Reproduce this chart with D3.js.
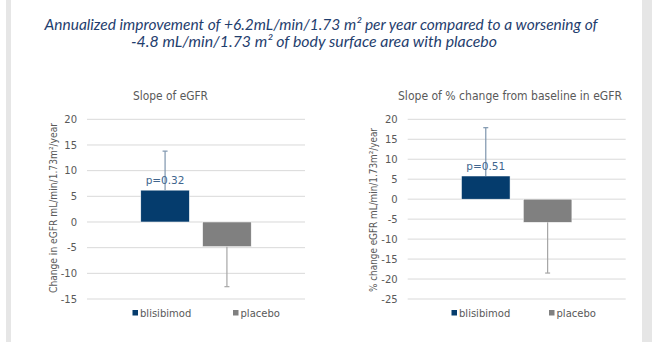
<!DOCTYPE html>
<html>
<head>
<meta charset="utf-8">
<script src="https://cdn.jsdelivr.net/npm/d3@7"></script>
<style>
  body { margin: 0; background: #fff; }
  svg { display: block; }
</style>
</head>
<body>
<svg id="chart"></svg>
<script>
// data
var series = ["blisibimod", "placebo"];
var seriesColors = ["#053c6d", "#808080"];
var errColors = ["#7d95ad", "#a6a6a6"];

var slopeValues = [6.2, -4.8];
var slopeErrEnds = [13.8, -12.6];
var slopeTicks = [20, 15, 10, 5, 0, -5, -10, -15];

var pctValues = [5.8, -5.8];
var pctErrEnds = [17.9, -18.5];
var pctTicks = [20, 15, 10, 5, 0, -5, -10, -15, -20, -25];

var pLabels = ["p=0.32", "p=0.51"];
var panelTitles = ["Slope of eGFR", "Slope of % change from baseline in eGFR"];
var yLabels = ["Change in eGFR mL/min/1.73m\u00b2/year", "% change eGFR mL/min/1.73m\u00b2/year"];
var headline = [
  "Annualized improvement of +6.2mL/min/1.73 m\u00b2 per year compared to a worsening of",
  "-4.8 mL/min/1.73 m\u00b2 of body surface area with placebo"
];

var W = 652, H = 349;
var svg = d3.select("#chart").attr("width", W).attr("height", H);

// slide frame strips
svg.append("rect").attr("x", 6).attr("y", 0).attr("width", 5).attr("height", 342).style("fill", "#e6e6e6");
svg.append("rect").attr("x", 642).attr("y", 0).attr("width", 10).attr("height", 342).style("fill", "#e6e6e6");

// headline
svg.append("text")
    .attr("x", 321).attr("y", 30)
    .attr("text-anchor", "middle")
    .style("font-family", "Lato, sans-serif")
    .style("font-style", "italic")
    .style("font-size", "15px")
    .style("fill", "#1f3e6e")
    .attr("textLength", 553).attr("lengthAdjust", "spacingAndGlyphs")
    .text(headline[0]);
svg.append("text")
    .attr("x", 314).attr("y", 46.5)
    .attr("text-anchor", "middle")
    .style("font-family", "Lato, sans-serif")
    .style("font-style", "italic")
    .style("font-size", "15px")
    .style("fill", "#1f3e6e")
    .attr("textLength", 366).attr("lengthAdjust", "spacingAndGlyphs")
    .text(headline[1]);

function drawPanel(opt) {
    var g = svg.append("g");
    var y = d3.scaleLinear().domain(opt.domain).range([299, 119.3]);
    var x = d3.scaleBand().domain(series)
        .range([opt.left, opt.left + 218])
        .paddingInner(0.215).paddingOuter(0.87);

    // gridlines
    g.selectAll("line.grid").data(opt.ticks).enter().append("line")
        .attr("x1", opt.left).attr("x2", opt.left + 218)
        .attr("y1", function(d) { return y(d); })
        .attr("y2", function(d) { return y(d); })
        .style("stroke", "#d9d9d9").style("stroke-width", 1);

    // y axis labels, plain hyphen like Excel
    var axis = d3.axisLeft(y).tickValues(opt.ticks).tickSize(0).tickPadding(10)
        .tickFormat(function(d) { return String(d); });
    var ax = g.append("g").attr("transform", "translate(" + opt.left + ",0)").call(axis);
    ax.select(".domain").remove();
    ax.selectAll("text")
        .style("font-family", "'DejaVu Sans', sans-serif")
        .style("font-size", "10px")
        .style("fill", "#595959");

    // bars
    g.selectAll("rect.bar").data(series).enter().append("rect")
        .attr("x", function(d) { return x(d); })
        .attr("width", x.bandwidth())
        .attr("y", function(d, i) { return y(Math.max(0, opt.values[i])); })
        .attr("height", function(d, i) { return Math.abs(y(opt.values[i]) - y(0)); })
        .style("fill", function(d, i) { return seriesColors[i]; })
        .style("stroke", "#fff").style("stroke-width", 0.5);

    // error bars (one direction only, as on the slide)
    series.forEach(function(s, i) {
        var cx = x(s) + x.bandwidth() / 2;
        g.append("line")
            .attr("x1", cx).attr("x2", cx)
            .attr("y1", y(opt.values[i])).attr("y2", y(opt.errEnds[i]))
            .style("stroke", errColors[i]).style("stroke-width", 1.2);
        g.append("line")
            .attr("x1", cx - 2.5).attr("x2", cx + 2.5)
            .attr("y1", y(opt.errEnds[i])).attr("y2", y(opt.errEnds[i]))
            .style("stroke", errColors[i]).style("stroke-width", 1.2);
    });

    // p value
    g.append("text")
        .attr("x", x(series[0]) + x.bandwidth() / 2)
        .attr("y", y(opt.values[0]) - 6)
        .attr("text-anchor", "middle")
        .style("font-family", "'DejaVu Sans', sans-serif")
        .style("font-size", "10.5px")
        .style("fill", "#41668e")
        .text(opt.pLabel);

    // panel title
    g.append("text")
        .attr("x", opt.titleX).attr("y", 100)
        .attr("text-anchor", "middle")
        .style("font-family", "'DejaVu Sans', sans-serif")
        .style("font-size", "11.5px")
        .style("fill", "#595959")
        .attr("textLength", opt.titleLen).attr("lengthAdjust", "spacingAndGlyphs")
        .text(opt.title);

    // y axis title
    g.append("text")
        .attr("transform", "translate(" + opt.yLabelX + "," + opt.yLabelY + ") rotate(-90)")
        .attr("text-anchor", "middle")
        .attr("dy", "0.35em")
        .style("font-family", "'DejaVu Sans', sans-serif")
        .style("font-size", "10px")
        .style("fill", "#595959")
        .attr("textLength", opt.yLabelLen).attr("lengthAdjust", "spacingAndGlyphs")
        .text(opt.yLabel);

    // legend
    var lg = g.selectAll("g.legend").data(series).enter().append("g")
        .attr("transform", function(d, i) { return "translate(" + opt.legendX[i] + ",313)"; });
    lg.append("rect")
        .attr("x", 0).attr("y", -3).attr("width", 5.5).attr("height", 5.5)
        .style("fill", function(d, i) { return seriesColors[i]; });
    lg.append("text")
        .attr("x", 7.5).attr("dy", "0.35em")
        .style("font-family", "'DejaVu Sans', sans-serif")
        .style("font-size", "10px")
        .style("fill", "#595959")
        .text(function(d) { return d; });
}

drawPanel({
    left: 87, domain: [-15, 20], ticks: slopeTicks,
    values: slopeValues, errEnds: slopeErrEnds, pLabel: pLabels[0],
    title: panelTitles[0], titleX: 170.5, titleLen: 75,
    yLabel: yLabels[0], yLabelX: 53, yLabelY: 208, yLabelLen: 170,
    legendX: [132.5, 233]
});
drawPanel({
    left: 407.7, domain: [-25, 20], ticks: pctTicks,
    values: pctValues, errEnds: pctErrEnds, pLabel: pLabels[1],
    title: panelTitles[1], titleX: 510, titleLen: 224,
    yLabel: yLabels[1], yLabelX: 373, yLabelY: 210, yLabelLen: 164,
    legendX: [451.5, 549]
});
</script>
</body>
</html>
